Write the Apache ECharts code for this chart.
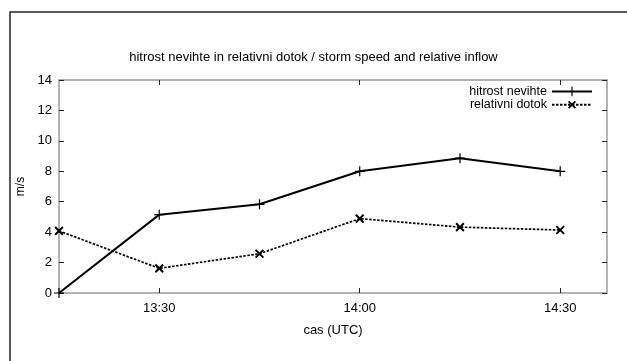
<!DOCTYPE html>
<html>
<head>
<meta charset="utf-8">
<script src="https://cdn.jsdelivr.net/npm/echarts@6/dist/echarts.min.js"></script>
<style>
  html, body { margin: 0; padding: 0; background: #fff; }
  #chart { width: 627px; height: 361px; }
</style>
</head>
<body>
<div id="chart"></div>
<script>
// times in minutes after midnight (UTC)
const times = [795, 810, 825, 840, 855, 870];
const hitrost = [0, 5.15, 5.83, 8.0, 8.86, 8.0];
const dotok = [4.08, 1.62, 2.58, 4.89, 4.33, 4.14];
const xTicks = [810, 840, 870];
const yTicks = [0, 2, 4, 6, 8, 10, 12, 14];

const fmtTime = v => {
    const h = Math.floor(v / 60);
    const m = v % 60;
    return h + ':' + (m < 10 ? '0' + m : m);
};

const font = 'Liberation Sans, Arial, sans-serif';
const plus = 'path://M0,4.4H10V5.6H0Z M4.4,0H5.6V10H4.4Z';
const cross = 'path://M0,4.1H10V5.9H0Z M4.1,0H5.9V10H4.1Z';

const myChart = echarts.init(document.getElementById('chart'));

const xBase = {
    type: 'value',
    min: 795,
    max: 877,
    splitLine: { show: false },
    axisLine: { show: true, onZero: false, lineStyle: { color: '#999', width: 1.5 } },
    axisTick: { show: true, inside: true, length: 5, customValues: xTicks, lineStyle: { color: '#222' } }
};
const yBase = {
    type: 'value',
    min: 0,
    max: 14,
    interval: 2,
    splitLine: { show: false },
    axisLine: { show: true, onZero: false, lineStyle: { color: '#999', width: 1.5 } },
    axisTick: { show: true, inside: true, length: 5, lineStyle: { color: '#222' } }
};

const option = {
    animation: false,
    backgroundColor: '#fff',
    textStyle: { fontFamily: font },
    title: {
        text: 'hitrost nevihte in relativni dotok / storm speed and relative inflow',
        left: 'center',
        top: 46,
        textStyle: { fontSize: 13, fontWeight: 'normal', color: '#000', fontFamily: font }
    },
    legend: {
        right: 29,
        top: 80,
        orient: 'vertical',
        align: 'right',
        itemWidth: 40,
        itemHeight: 12,
        itemGap: 0,
        textStyle: { fontSize: 12.5, color: '#000', fontFamily: font },
        data: ['hitrost nevihte', 'relativni dotok']
    },
    graphic: [{
        type: 'rect',
        shape: { x: 10, y: 12, width: 700, height: 500 },
        style: { fill: 'none', stroke: '#222', lineWidth: 1.5 },
        silent: true
    }],
    grid: { left: 59, right: 20, top: 80, bottom: 68 },
    xAxis: [
        Object.assign({}, xBase, {
            position: 'bottom',
            name: 'cas (UTC)',
            nameLocation: 'middle',
            nameGap: 31,
            nameTextStyle: { fontSize: 13, color: '#000', fontFamily: font },
            axisLabel: {
                customValues: xTicks,
                formatter: fmtTime,
                fontSize: 13,
                color: '#000',
                margin: 9
            }
        }),
        Object.assign({}, xBase, {
            position: 'top',
            axisLabel: { show: false }
        })
    ],
    yAxis: [
        Object.assign({}, yBase, {
            position: 'left',
            name: 'm/s',
            nameLocation: 'middle',
            nameGap: 30,
            nameTextStyle: { fontSize: 12, color: '#000', fontFamily: font },
            axisLabel: {
                fontSize: 13,
                color: '#000',
                margin: 7,
                customValues: yTicks
            }
        }),
        Object.assign({}, yBase, {
            position: 'right',
            axisLabel: { show: false }
        })
    ],
    series: [
        {
            name: 'hitrost nevihte',
            type: 'line',
            data: times.map((t, i) => [t, hitrost[i]]),
            symbol: plus,
            symbolSize: 10,
            itemStyle: { color: '#000' },
            lineStyle: { color: '#000', width: 2 }
        },
        {
            name: 'relativni dotok',
            type: 'line',
            data: times.map((t, i) => [t, dotok[i]]),
            symbol: cross,
            symbolSize: 11,
            symbolRotate: 45,
            itemStyle: { color: '#000' },
            lineStyle: { color: '#000', width: 1.7, type: [2.5, 1.5] }
        }
    ]
};

myChart.setOption(option);
</script>
</body>
</html>
